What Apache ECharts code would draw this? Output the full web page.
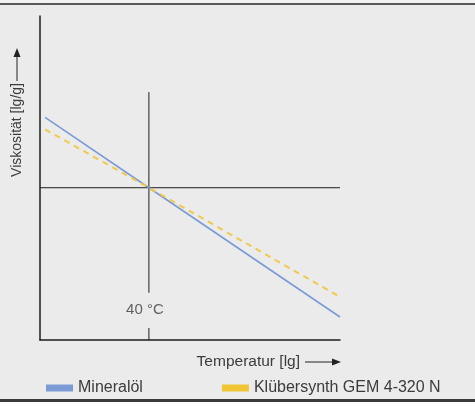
<!DOCTYPE html>
<html lang="de">
<head>
	<meta charset="UTF-8">
	<title>Viskosität</title>
	<style>
		body { margin: 0; }
		#main { width: 475px; height: 409px; }
	</style>
</head>
<body>
	<div id="main"></div>
	<script src="https://cdn.jsdelivr.net/npm/echarts@6/dist/echarts.min.js"></script>
	<script>
		// Werte (beliebige lg-Einheiten, Achsen 0..100)
		var seriesNames = ['Mineralöl', 'Klübersynth GEM 4-320 N'];
		var tempX = [1.7, 36.3, 100];
		var mineralOil = [68.7, 47, 7.1];
		var kluebersynth = [65, 47, 13.3];
		// Bezugspunkt 40 °C
		var refX = 36.3;
		var refY = 47;
		var refLabel = '40 °C';
		var vLineTop = 76.5;
		var vGapTop = 14.6;
		var vGapBottom = 3.7;

		var myChart = echarts.init(document.getElementById('main'));
		var font = 'Liberation Sans, Arial, sans-serif';
		var textColor = '#3c3c3c';

		function pairs(xs, ys) {
			return xs.map(function (x, i) { return [x, ys[i]]; });
		}

		myChart.setOption({
			backgroundColor: '#ffffff',
			animation: false,
			textStyle: { fontFamily: font },
			grid: { left: 40, top: 16, width: 300, height: 324 },
			xAxis: {
				type: 'value', min: 0, max: 100,
				axisLine: { onZero: false, lineStyle: { color: '#1e1e1e', width: 1.5 } },
				axisTick: { show: false }, axisLabel: { show: false }, splitLine: { show: false }
			},
			yAxis: {
				type: 'value', min: 0, max: 100,
				axisLine: { show: true, onZero: false, lineStyle: { color: '#1e1e1e', width: 1.5 } },
				axisTick: { show: false }, axisLabel: { show: false }, splitLine: { show: false }
			},
			legend: {
				data: seriesNames,
				left: 46, top: 380, padding: 0,
				icon: 'rect', itemWidth: 27, itemHeight: 7, itemGap: 79,
				itemStyle: { borderWidth: 0 },
				textStyle: { fontSize: 16, color: textColor, fontFamily: font }
			},
			graphic: [
				{ type: 'rect', z: -10, silent: true, shape: { x: 0, y: 0, width: 475, height: 3 }, style: { fill: '#f2f2f2' } },
				{ type: 'rect', z: -10, silent: true, shape: { x: 0, y: 5, width: 475, height: 394 }, style: { fill: '#ebebeb' } },
				{ type: 'rect', z: -9, silent: true, shape: { x: 0, y: 3, width: 475, height: 2 }, style: { fill: '#5a5a5a' } },
				{ type: 'rect', z: -9, silent: true, shape: { x: 0, y: 399, width: 475, height: 3 }, style: { fill: '#3a3a3a' } },
				// x-Achsentitel mit Pfeil
				{ type: 'text', x: 300, y: 362, style: { text: 'Temperatur [lg]', fontSize: 15.5, fontFamily: font, fill: textColor, align: 'right', verticalAlign: 'middle' } },
				{ type: 'line', shape: { x1: 305, y1: 362, x2: 334, y2: 362 }, style: { stroke: '#222', lineWidth: 1 } },
				{ type: 'polygon', shape: { points: [[332, 358.5], [341, 362], [332, 365.5]] }, style: { fill: '#222' } },
				// y-Achsentitel mit Pfeil
				{ type: 'text', x: 17, y: 130, rotation: Math.PI / 2, style: { text: 'Viskosität [lg/g]', fontSize: 14, fontFamily: font, fill: textColor, align: 'center', verticalAlign: 'middle' } },
				{ type: 'line', shape: { x1: 17, y1: 81, x2: 17, y2: 55 }, style: { stroke: '#222', lineWidth: 1 } },
				{ type: 'polygon', shape: { points: [[13.5, 57], [17, 48], [20.5, 57]] }, style: { fill: '#222' } }
			],
			series: [
				{
					name: 'cross-h', type: 'line', silent: true, symbol: 'none', z: 1,
					data: [[0, refY], [100, refY]],
					lineStyle: { color: '#1e1e1e', width: 1 }
				},
				{
					name: 'cross-v', type: 'line', silent: true, symbol: 'none', z: 1,
					data: [[refX, vLineTop], [refX, vGapTop], null, [refX, vGapBottom], [refX, 0]],
					connectNulls: false,
					lineStyle: { color: '#1e1e1e', width: 1 }
				},
				{
					name: 'label', type: 'scatter', silent: true, symbolSize: 0,
					data: [[refX, (vGapTop + vGapBottom) / 2]],
					label: { show: true, position: 'inside', formatter: refLabel, fontSize: 15, fontFamily: font, color: textColor, offset: [-4, 0] }
				},
				{
					name: seriesNames[0], type: 'line', symbol: 'none', z: 3,
					data: pairs(tempX, mineralOil),
					itemStyle: { color: '#7a9bd6' },
					lineStyle: { color: '#7a9bd6', width: 1.6 }
				},
				{
					name: seriesNames[1], type: 'line', symbol: 'none', z: 4,
					data: pairs(tempX, kluebersynth),
					itemStyle: { color: '#f1c535' },
					lineStyle: { color: '#f1c94a', width: 2, type: [6, 5] }
				}
			]
		});
	</script>
</body>
</html>
